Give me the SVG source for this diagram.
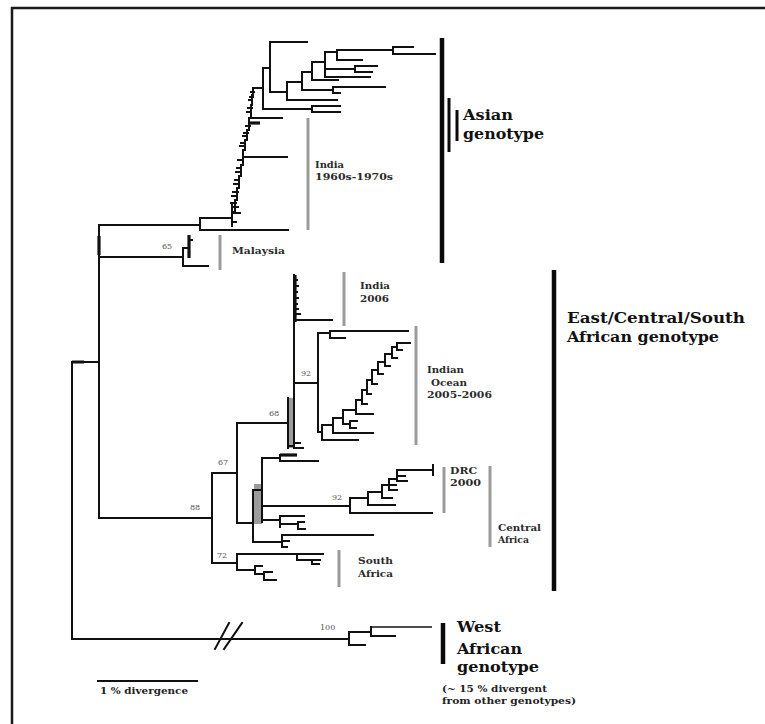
<svg xmlns="http://www.w3.org/2000/svg" width="765" height="724" viewBox="0 0 765 724">
<style>
.br{stroke:#111;stroke-width:2;fill:none;stroke-linecap:square}
.thk{stroke:#111;stroke-width:3.2;fill:none}
.thin{stroke:#111;stroke-width:1.5;fill:none}
.bar{stroke:#0a0a0a;stroke-width:4.5;fill:none}
.bar2{stroke:#0a0a0a;stroke-width:3;fill:none}
.gbar{stroke:#9a9a9a;stroke-width:3;fill:none}
.shade{fill:#9c9c9c}
.lbl{font-family:"DejaVu Serif","Liberation Serif",serif;font-size:10px;font-weight:bold;fill:#2a2a2a}
.big{font-family:"DejaVu Serif","Liberation Serif",serif;font-size:15.5px;font-weight:bold;fill:#111}
.note{font-family:"DejaVu Serif","Liberation Serif",serif;font-size:9.5px;font-weight:bold;fill:#222}
.bs{font-family:"DejaVu Serif","Liberation Serif",serif;font-size:8px;fill:#555}
</style>
<rect x="0" y="0" width="765" height="724" fill="#fff"/>
<g id="frame">
<path d="M11,8 H765 M12,7 V724" stroke="#1a1a1a" stroke-width="2.5" fill="none"/>
</g>
<g id="connectors">
<rect class="shade" x="288" y="398" width="6" height="50"/>
<rect class="shade" x="254" y="484" width="8" height="40"/>
<path class="br" d="M72,362 V639 M72,362 H99 M99,225 V518 M72,639 H349"/>
<path class="thk" d="M72,362 H84 M99,236 V255"/>
<!-- Asian -->
<path class="br" d="M99,225 H200 M200,218 V230 M200,230 H288 M200,218 H232"/>
<path class="br" d="M232,205 V226 M232,207 H238 M232,213 H240 M232,222 H236"/>
<path class="br" d="M232,218 V212 H235 V200 H237 V188 H239 V176 H241 V165 H243 V150 H245 V140 H247 V130 H249 V118 H251 V105 H252 V95 H253 V88 H263"/>
<path class="br" d="M231,203 H236 M232,196 H236 M233,192 H238 M234,184 H238 M235,180 H239 M236,172 H240 M237,168 H241 M238,160 H242 M240,146 H244 M241,143 H245 M243,136 H247 M244,133 H248 M246,126 H250 M247,112 H251 M248,108 H252 M249,100 H252 M250,97 H253 M251,92 H254"/>
<path class="br" d="M249,118 H282 M243,157 H287"/>
<path class="thk" d="M250,123 H260"/>
<path class="br" d="M263,68 V109 M263,109 H312 M312,106 V112 M312,106 H340 M312,112 H340"/>
<path class="br" d="M263,68 H270 M270,42 V92 M270,42 H307 M270,92 H287 M287,82 V100 M287,100 H337"/>
<path class="br" d="M287,82 H302 M302,72 V90 M302,90 H333 M333,87 V93 M333,87 H385 M333,93 H340"/>
<path class="br" d="M302,72 H312 M312,62 V80 M312,80 H338 M312,62 H325 M325,52 V77 M325,77 H370"/>
<path class="br" d="M325,69 H355 M355,66 V72 M355,66 H377 M355,72 H372"/>
<path class="br" d="M325,52 H337 M337,50 V60 M337,60 H362 M337,50 H393 M393,47 V54 M393,47 H413 M393,54 H435"/>
<!-- Malaysia -->
<path class="br" d="M99,257 H183 M183,248 V266 M183,248 H189 M183,266 H208 M189,240 H192"/>
<path class="thk" d="M189,235 V258"/>
<!-- ECSA -->
<path class="br" d="M99,518 H212 M212,473 V563 M212,473 H237 M237,423 V523 M212,563 H237"/>
<path class="br" d="M237,554 V570 M237,554 H323 M297,554 V560 H312 M312,560 V564 M312,560 H320 M312,564 H319"/>
<path class="br" d="M237,570 H255 M255,566 V574 M255,566 H262 M255,574 H264 M264,572 V580 M264,572 H272 M264,580 H276"/>
<path class="br" d="M237,523 H253 M253,490 V542 M253,490 H262 M262,458 V522"/>
<path class="br" d="M262,458 H280 M280,455 V461 M280,461 H318"/>
<path class="thk" d="M280,455 H297"/>
<path class="br" d="M262,506 H350"/>
<path class="br" d="M262,520 H280 M280,516 V527 M280,516 H304 M280,524 H298 M298,522 V529 M298,529 H305 M298,522 H304"/>
<path class="br" d="M253,542 H282 M282,535 V547 M282,535 H373 M282,541 H289 M282,547 H287"/>
<path class="br" d="M350,498 V513 M350,513 H432 M350,498 H368 M368,492 V505 M368,505 H395 M368,492 H382 M382,485 V498 M382,498 H392 M382,485 H389 M389,479 V490 M389,490 H397 M389,485 H396 M389,479 H397 M397,470 V481 M397,481 H407 M397,476 H405 M397,470 H433 M433,465 V475"/>
<path class="br" d="M237,423 H288 M288,398 V448 M294,275 V448 M288,446 H292 M294,443 H300 M294,448 H303"/>
<path class="thk" d="M295,275 V322"/>
<path class="br" d="M294,320 H332 M294,314 H300 M294,280 H297 M294,286 H298 M294,292 H297 M294,298 H298 M294,304 H297 M294,309 H298"/>
<path class="br" d="M294,383 H318 M318,333 V432 M318,333 H330 M330,331 V338 M330,331 H408 M330,338 H345 M318,432 H322"/>
<path class="br" d="M322,425 V440 H358 M322,425 H333 M333,418 V433 H373 M333,418 H343 M343,410 V424 H350 M350,421 V428 M350,421 H357 M350,428 H356 M343,410 H356 M356,400 V414 H373 M356,400 H362 M362,390 V404 H367 M362,390 H367 M367,380 V394 H371 M367,380 H372 M372,370 V384 H377 M372,370 H378 M378,362 V374 H383 M378,362 H385 M385,354 V366 H390 M385,354 H392 M392,347 V358 H397 M392,347 H397 M397,343 V350 M397,343 H410 M397,350 H402"/>
<!-- West African -->
<path class="br" d="M349,632 V645 M349,632 H371 M371,627 V636 M349,645 H365"/>
<path class="thin" d="M371,627 H432"/>
<path class="br" d="M371,636 H395" stroke-width="4"/>
<path class="br" d="M215,649 L229,623 M224,649 L242,623"/>
</g>
<g id="scale-bar">
<path class="br" d="M98,681 H197"/>
<text class="note" x="100" y="694" textLength="88" lengthAdjust="spacingAndGlyphs" font-size="9">1 % divergence</text>
</g>
<g id="bootstrap">
<text class="bs" x="162" y="249">65</text>
<text class="bs" x="301" y="376">92</text>
<text class="bs" x="269" y="416">68</text>
<text class="bs" x="218" y="465">67</text>
<text class="bs" x="190" y="510">88</text>
<text class="bs" x="332" y="500">92</text>
<text class="bs" x="217" y="558">72</text>
<text class="bs" x="320" y="630">100</text>
</g>
<g id="asian-genotype">
<path class="bar" d="M442,38 V263"/>
<path class="bar2" d="M449,98 V152 M457,110 V141"/>
<text class="big" x="463" y="120" textLength="50" lengthAdjust="spacingAndGlyphs">Asian</text>
<text class="big" x="463" y="139" textLength="81" lengthAdjust="spacingAndGlyphs">genotype</text>
</g>
<g id="india-1960s">
<path class="gbar" d="M308,118 V230"/>
<text class="lbl" x="315" y="168" textLength="29" lengthAdjust="spacingAndGlyphs">India</text>
<text class="lbl" x="315" y="180" textLength="78" lengthAdjust="spacingAndGlyphs">1960s-1970s</text>
</g>
<g id="malaysia">
<path class="gbar" d="M220,235 V270"/>
<text class="lbl" x="232" y="254" textLength="53" lengthAdjust="spacingAndGlyphs" font-size="9.5">Malaysia</text>
</g>
<g id="ecsa-genotype">
<path class="bar" d="M554,270 V591"/>
<text class="big" x="567" y="323" textLength="178" lengthAdjust="spacingAndGlyphs">East/Central/South</text>
<text class="big" x="567" y="342" textLength="152" lengthAdjust="spacingAndGlyphs">African genotype</text>
</g>
<g id="india-2006">
<path class="gbar" d="M344,272 V326"/>
<text class="lbl" x="360" y="289" textLength="30" lengthAdjust="spacingAndGlyphs">India</text>
<text class="lbl" x="360" y="302" textLength="29" lengthAdjust="spacingAndGlyphs">2006</text>
</g>
<g id="indian-ocean">
<path class="gbar" d="M416,326 V445"/>
<text class="lbl" x="427" y="373" textLength="37" lengthAdjust="spacingAndGlyphs">Indian</text>
<text class="lbl" x="431" y="386" textLength="36" lengthAdjust="spacingAndGlyphs">Ocean</text>
<text class="lbl" x="427" y="398" textLength="65" lengthAdjust="spacingAndGlyphs">2005-2006</text>
</g>
<g id="drc-2000">
<path class="gbar" d="M444,467 V513"/>
<text class="lbl" x="450" y="474" textLength="27" lengthAdjust="spacingAndGlyphs">DRC</text>
<text class="lbl" x="450" y="486" textLength="31" lengthAdjust="spacingAndGlyphs">2000</text>
</g>
<g id="central-africa">
<path class="gbar" d="M490,466 V547"/>
<text class="lbl" x="498" y="531" textLength="43" lengthAdjust="spacingAndGlyphs">Central</text>
<text class="lbl" x="498" y="543" textLength="31" lengthAdjust="spacingAndGlyphs">Africa</text>
</g>
<g id="south-africa">
<path class="gbar" d="M339,550 V587"/>
<text class="lbl" x="358" y="564" textLength="35" lengthAdjust="spacingAndGlyphs">South</text>
<text class="lbl" x="358" y="577" textLength="35" lengthAdjust="spacingAndGlyphs">Africa</text>
</g>
<g id="west-african-genotype">
<path class="bar" d="M443,623 V664"/>
<text class="big" x="457" y="632" textLength="44" lengthAdjust="spacingAndGlyphs">West</text>
<text class="big" x="457" y="654" textLength="65" lengthAdjust="spacingAndGlyphs">African</text>
<text class="big" x="457" y="672" textLength="82" lengthAdjust="spacingAndGlyphs">genotype</text>
<text class="note" x="442" y="692" textLength="105" lengthAdjust="spacingAndGlyphs">(~ 15 % divergent</text>
<text class="note" x="442" y="704" textLength="134" lengthAdjust="spacingAndGlyphs">from other genotypes)</text>
</g>
</svg>
